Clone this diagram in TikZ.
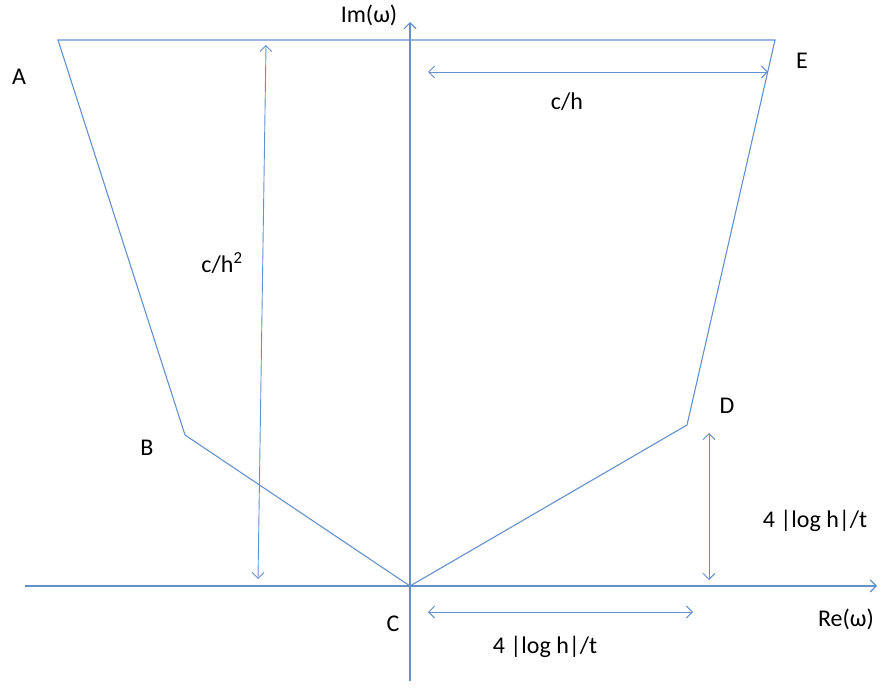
\documentclass[tikz,border=0pt]{standalone}
\usepackage{fontspec}
\setmainfont{Carlito}
\usetikzlibrary{arrows.meta}
\definecolor{lineblue}{RGB}{100,145,205}
\begin{document}
\begin{tikzpicture}[x=1pt,y=-1pt,
  shape line/.style={draw=lineblue,line width=1.1pt,line join=miter},
  axis/.style={draw=lineblue,line width=1.1pt,-{Straight Barb[length=6pt,width=12pt,line width=1.1pt]}},
  dim/.style={draw=lineblue,line width=0.9pt,{Straight Barb[length=6pt,width=12pt,line width=0.9pt]}-{Straight Barb[length=6pt,width=12pt,line width=0.9pt]}},
  lbl/.style={font=\fontsize{24}{28}\selectfont,inner sep=0pt}]
\useasboundingbox (0,0) rectangle (883,688);
% corners
\coordinate (A) at (58,40);
\coordinate (E) at (775,40);
\coordinate (D) at (687,425);
\coordinate (C) at (410,586);
\coordinate (B) at (185,435);
% axes ends
\coordinate (xs) at (25,586);
\coordinate (xe) at (877,586);
\coordinate (ys) at (410,681);
\coordinate (ye) at (410,22);
% dimension ends
\coordinate (ch1) at (428,72);
\coordinate (ch2) at (768,72);
\coordinate (cq1) at (266,45);
\coordinate (cq2) at (258,579);
\coordinate (dv1) at (709,433);
\coordinate (dv2) at (709,580);
\coordinate (bh1) at (428,612);
\coordinate (bh2) at (693,612);
% axes
\draw[axis] (xs) -- (xe);
\draw[axis] (ys) -- (ye);
% polygon
\draw[shape line] (B) -- (A) -- (E) -- (D) -- (C) -- cycle;
% dimension arrows
\draw[dim] (ch1) -- (ch2);
\draw[dim] (cq1) -- (cq2);
\draw[dim] (dv1) -- (dv2);
\draw[dim] (bh1) -- (bh2);
% labels
\node[lbl] (lA) at (19,77) {A};
\node[lbl] (lE) at (802,61) {E};
\node[lbl] (lB) at (147,448) {B};
\node[lbl] (lD) at (727,406) {D};
\node[lbl] (lC) at (393,624) {C};
\node[lbl] (lIm) at (369,15) {Im(ω)};
\node[lbl] (lRe) at (846,619) {Re(ω)};
\node[lbl] (lch) at (567,102) {c/h};
\node[lbl] (lcq) at (222,263) {c/h\textsuperscript{2}};
\node[lbl] (ldv) at (815,521) {4 |log h|/t};
\node[lbl] (lbh) at (545,647) {4 |log h|/t};
\end{tikzpicture}
\end{document}
